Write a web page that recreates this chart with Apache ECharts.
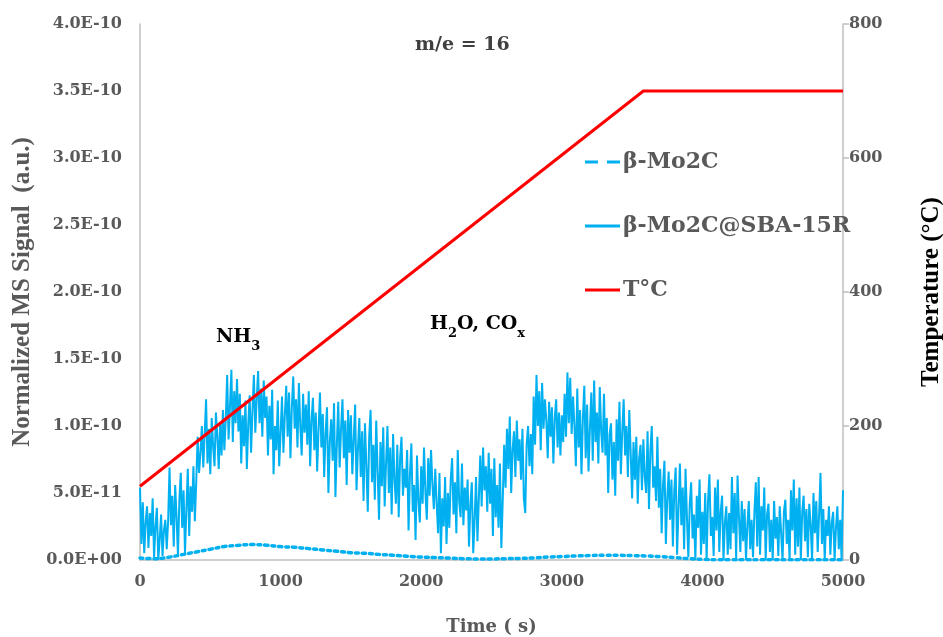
<!DOCTYPE html>
<html>
<head>
<meta charset="utf-8">
<script src="https://cdn.jsdelivr.net/npm/echarts@6/dist/echarts.min.js"></script>
<style>
html,body{margin:0;padding:0;background:#fff;}
#chart{width:943px;height:637px;}
</style>
</head>
<body>
<div id="chart"></div>
<script>
// ---------- data ----------
const xTicks = [0, 1000, 2000, 3000, 4000, 5000];
const leftTicksLabelUnit = 1e-11;   // signal values below are in units of 1E-11
const rightTicks = [0, 200, 400, 600, 800];

// β-Mo2C@SBA-15R signal, one value every 10 s from 0 to 5000 s (units of 1E-11)
const sbaStep = 10;
const sbaSignal = [
  5.4, 1.2, 4.3, 0.5, 2.8, 4.0, 0.9, 3.5, 1.8, 4.6,
  0.2, 2.5, 3.9, 0.0, 1.5, 3.4, 0.3, 2.2, 3.0, 0.8,
  2.9, 6.9, 2.6, 4.8, 1.0, 5.6, 3.2, 0.3, 4.5, 6.5,
  2.4, 5.2, 0.5, 3.8, 6.8, 1.8, 5.5, 3.6, 7.0, 2.9,
  5.8, 9.2, 6.5, 8.0, 10.0, 6.9, 9.4, 12.0, 7.2, 9.8,
  6.4, 10.6, 8.5, 7.0, 11.0, 9.2, 6.8, 10.3, 7.8, 11.2,
  8.2, 10.5, 13.8, 9.0, 11.5, 14.2, 8.8, 12.6, 10.2, 13.5,
  9.6, 12.4, 7.2, 10.8, 8.5, 11.9, 6.8, 10.2, 12.3, 8.0,
  11.2, 13.8, 9.5, 12.0, 14.1, 10.2, 12.8, 9.2, 13.4, 10.6,
  12.2, 7.8, 11.5, 9.0, 12.7, 6.4, 10.0, 8.2, 11.9, 7.0,
  9.5, 12.2, 8.0, 10.8, 13.0, 9.2, 12.5, 7.6, 11.4, 13.7,
  9.8, 12.0, 8.4, 13.2, 10.0, 7.8, 12.4, 9.5, 11.6, 8.6,
  12.6, 7.0, 10.4, 12.1, 8.2, 11.0, 6.6, 9.8, 12.5, 8.4,
  10.9, 6.2, 9.5, 11.4, 5.0, 8.8, 10.5, 7.4, 11.7, 4.7,
  8.6, 11.8, 6.9, 9.8, 12.0, 7.6, 10.4, 5.6, 11.2, 8.0,
  10.8, 6.4, 9.0, 11.6, 5.2, 8.3, 10.6, 6.2, 9.6, 4.4,
  10.2, 7.0, 3.6, 9.2, 11.2, 5.8, 8.6, 4.5, 10.4, 6.6,
  3.0, 8.8, 5.5, 9.9, 4.0, 7.2, 10.0, 5.0, 8.4, 3.4,
  9.4, 6.0, 4.2, 8.6, 3.2, 7.6, 9.2, 4.8, 6.8, 5.4,
  8.2, 2.2, 6.4, 8.7, 3.6, 5.6, 1.5, 7.8, 4.4, 2.8,
  7.0, 4.2, 8.4, 5.0, 3.0, 7.6, 4.8, 8.2, 5.6, 3.8,
  6.8, 4.2, 2.0, 6.5, 0.5, 4.6, 2.5, 6.2, 1.2, 5.0,
  2.4, 6.0, 7.6, 3.4, 5.8, 2.0, 8.2, 4.4, 3.2, 7.2,
  2.6, 5.4, 3.7, 6.0, 1.0, 4.2, 5.8, 0.5, 3.0, 6.2,
  1.4, 4.6, 7.8, 4.0, 8.4, 5.2, 7.0, 3.6, 8.0, 4.2,
  6.8, 1.8, 7.6, 3.2, 5.6, 2.4, 7.2, 0.9, 4.5, 8.6,
  5.4, 9.8, 6.8, 10.7, 5.0, 8.2, 9.6, 6.2, 10.4, 7.4,
  9.0, 6.0, 9.8, 4.6, 3.5, 8.6, 10.0, 7.0, 9.4, 6.4,
  12.2, 8.6, 13.8, 10.0, 12.6, 8.2, 13.2, 9.8, 12.0, 10.4,
  7.6, 11.8, 9.2, 11.4, 7.2, 10.6, 12.0, 8.4, 11.0, 7.8,
  10.8, 8.8, 12.4, 9.2, 14.0, 10.2, 13.6, 9.4, 12.2, 10.0,
  7.0, 12.8, 8.4, 11.2, 6.4, 10.6, 13.0, 7.6, 11.6, 6.6,
  9.8, 12.5, 7.4, 13.4, 8.8, 11.0, 7.2, 12.9, 9.6, 8.0,
  12.4, 7.8, 10.6, 5.0, 9.4, 10.2, 6.0, 8.8, 4.8, 10.5,
  7.4, 11.8, 6.4, 9.6, 12.0, 7.8, 10.0, 6.2, 11.2, 8.0,
  4.6, 8.8, 6.0, 9.2, 4.2, 7.6, 8.6, 5.2, 9.0, 6.2,
  5.0, 9.6, 3.8, 8.2, 10.0, 5.4, 7.0, 4.4, 9.2, 3.9,
  6.8, 2.0, 5.6, 7.4, 1.2, 4.6, 6.6, 3.0, 6.0, 1.0,
  5.2, 6.9, 0.4, 3.8, 7.2, 2.6, 5.4, 0.8, 6.8, 3.2,
  0.2, 4.2, 5.8, 1.6, 3.4, 0.0, 4.8, 2.4, 6.0, 0.4,
  3.6, 1.2, 5.0, 0.0, 4.4, 6.4, 1.8, 3.2, 0.3, 5.4,
  2.2, 6.0, 0.6, 3.6, 4.8, 0.0, 2.8, 4.0, 0.4, 3.5,
  0.8, 6.2, 2.0, 5.0, 0.0, 6.3, 3.2, 0.6, 4.4, 1.4,
  3.8, 0.0, 2.6, 4.4, 0.8, 3.0, 0.2, 3.6, 5.8, 1.0,
  6.2, 0.4, 4.0, 2.2, 5.4, 0.0, 3.4, 4.2, 0.6, 3.0,
  0.0, 4.4, 1.6, 3.2, 0.3, 4.0, 2.0, 0.0, 3.6, 4.5,
  1.2, 3.0, 0.0, 5.2, 2.2, 6.0, 0.4, 4.6, 1.0, 5.4,
  0.0, 3.6, 4.8, 1.4, 3.8, 0.2, 4.2, 2.6, 0.0, 5.0,
  2.0, 4.4, 0.6, 3.4, 6.5, 1.2, 3.8, 0.0, 3.0, 1.8,
  4.0, 0.4, 2.8, 3.6, 0.0, 2.4, 4.0, 0.8, 3.0, 0.0,
  5.2
];

// β-Mo2C signal, one value every 100 s (units of 1E-11)
const moStep = 100;
const moSignal = [
  0.15, 0.1, 0.2, 0.4, 0.6, 0.8, 1.0, 1.1, 1.15, 1.1,
  1.0, 0.95, 0.85, 0.75, 0.65, 0.55, 0.5, 0.42, 0.35, 0.28,
  0.22, 0.18, 0.14, 0.1, 0.08, 0.08, 0.1, 0.12, 0.16, 0.22,
  0.26, 0.3, 0.33, 0.36, 0.35, 0.33, 0.3, 0.25, 0.18, 0.1,
  0.05, 0.02, 0.02, 0.02, 0.02, 0.02, 0.02, 0.02, 0.02, 0.02,
  0.02
];

// Temperature program (s, °C)
const tempTime = [0, 3580, 5000];
const tempValue = [110, 700, 700];

const seriesNames = ['β-Mo2C', 'β-Mo2C@SBA-15R', 'T°C'];

// ---------- build ----------
const sbaData = sbaSignal.map((v, i) => [i * sbaStep, v]);
const moData = moSignal.map((v, i) => [i * moStep, v]);
const tempData = tempTime.map((t, i) => [t, tempValue[i]]);

function sci(v) {
  if (v === 0) return '0.0E+00';
  const s = v.toExponential(1);
  const [m, e] = s.split('e');
  const sign = e[0] === '-' ? '-' : '+';
  const d = e.replace(/[+-]/, '');
  return m + 'E' + sign + (d.length < 2 ? '0' + d : d);
}

const gray = '#595959';
const axisGray = '#BFBFBF';
const cyan = '#00B0F0';
const red = '#FF0000';
const serif = '"DejaVu Serif", serif';
const times = '"Liberation Serif", "Times New Roman", serif';

const chart = echarts.init(document.getElementById('chart'), null, {renderer: 'canvas'});
chart.setOption({
  animation: false,
  backgroundColor: '#fff',
  grid: {left: 140, right: 100, top: 24, bottom: 77, containLabel: false, outerBoundsMode: 'none'},
  legend: {
    orient: 'vertical',
    left: 580,
    top: 146,
    itemWidth: 35,
    itemHeight: 3,
    itemGap: 42,
    selectedMode: false,
    symbolKeepAspect: false,
    textStyle: {fontFamily: serif, fontWeight: 'bold', fontSize: 22, color: gray, lineHeight: 22, padding: [0, 0, 0, -2]},
    data: [
      {name: seriesNames[0], icon: 'path://M0,0H13V3H0Z M22,0H35V3H22Z', itemStyle: {color: cyan}},
      {name: seriesNames[1], icon: 'path://M0,0.5H35V2.5H0Z', itemStyle: {color: cyan}},
      {name: seriesNames[2], icon: 'path://M0,0H35V3H0Z', itemStyle: {color: red}}
    ]
  },
  xAxis: {
    type: 'value', min: 0, max: 5000, interval: 1000,
    name: 'Time ( s)', nameLocation: 'middle', nameGap: 58,
    nameTextStyle: {fontFamily: serif, fontWeight: 'bold', fontSize: 18, color: gray},
    axisLine: {show: true, lineStyle: {color: axisGray, width: 1.5}},
    axisTick: {show: false},
    splitLine: {show: false},
    axisLabel: {fontFamily: serif, fontWeight: 'bold', fontSize: 16, color: gray, margin: 14,
      formatter: v => xTicks.includes(v) ? String(v) : ''}
  },
  yAxis: [{
    type: 'value', min: 0, max: 40, interval: 5, position: 'left',
    name: 'Normalized MS Signal  (a.u.)', nameLocation: 'middle', nameGap: 100, nameRotate: 90,
    nameTextStyle: {fontFamily: times, fontWeight: 'bold', fontSize: 25, color: gray},
    axisLine: {show: true, lineStyle: {color: axisGray, width: 1.5}},
    axisTick: {show: false},
    splitLine: {show: false},
    axisLabel: {fontFamily: serif, fontWeight: 'bold', fontSize: 16, color: gray, margin: 18,
      formatter: v => sci(v * leftTicksLabelUnit)}
  }, {
    type: 'value', min: 0, max: 800, interval: 200, position: 'right',
    name: 'Temperature (°C)', nameLocation: 'middle', nameGap: 76, nameRotate: 90,
    nameTextStyle: {fontFamily: times, fontWeight: 'bold', fontSize: 25, color: '#000'},
    axisLine: {show: true, lineStyle: {color: axisGray, width: 1.5}},
    axisTick: {show: true, inside: false, length: 6, lineStyle: {color: axisGray, width: 1.5}},
    splitLine: {show: false},
    axisLabel: {fontFamily: serif, fontWeight: 'bold', fontSize: 16, color: gray, margin: 6,
      formatter: v => rightTicks.includes(v) ? String(v) : ''}
  }],
  series: [{
    name: seriesNames[0], type: 'line', yAxisIndex: 0, data: moData, smooth: true,
    showSymbol: false, symbol: 'none',
    lineStyle: {color: cyan, width: 3.5, type: [3, 4], cap: 'round'},
    itemStyle: {color: cyan}, z: 2
  }, {
    name: seriesNames[1], type: 'line', yAxisIndex: 0, data: sbaData,
    showSymbol: false, symbol: 'none',
    lineStyle: {color: cyan, width: 2},
    itemStyle: {color: cyan}, z: 3
  }, {
    name: seriesNames[2], type: 'line', yAxisIndex: 1, data: tempData,
    showSymbol: false, symbol: 'none',
    lineStyle: {color: red, width: 3},
    itemStyle: {color: red}, z: 4
  }],
  graphic: [{
    type: 'text', left: 415, top: 36,
    style: {text: 'm/e = 16', font: 'bold 19px ' + serif, fill: '#404040'}
  }, {
    type: 'text', left: 216, top: 328,
    style: {
      text: '{b|NH}{s|3}',
      rich: {
        b: {font: 'bold 19px ' + serif, fill: '#000', verticalAlign: 'bottom'},
        s: {font: 'bold 13px ' + serif, fill: '#000', verticalAlign: 'bottom', padding: [0, 0, -6, 0]}
      }
    }
  }, {
    type: 'text', left: 430, top: 315,
    style: {
      text: '{b|H}{s|2}{b|O, CO}{s|x}',
      rich: {
        b: {font: 'bold 19px ' + serif, fill: '#000', verticalAlign: 'bottom'},
        s: {font: 'bold 13px ' + serif, fill: '#000', verticalAlign: 'bottom', padding: [0, 0, -6, 0]}
      }
    }
  }]
});
</script>
</body>
</html>
